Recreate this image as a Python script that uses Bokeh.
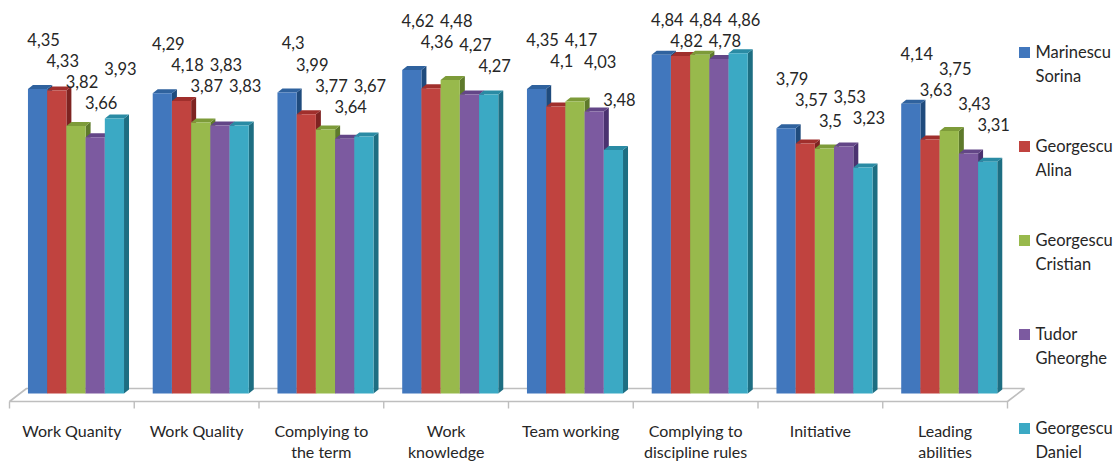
from bokeh.plotting import figure
from bokeh.models import Range1d
from bokeh.embed import file_html
from bokeh.resources import INLINE
from bokeh.core.properties import value

# ---------------- data ----------------
categories = ["Work Quanity", "Work Quality", "Complying to\nthe term", "Work\nknowledge",
              "Team working", "Complying to\ndiscipline rules", "Initiative", "Leading\nabilities"]
series_names = ["Marinescu\nSorina", "Georgescu\nAlina", "Georgescu\nCristian",
                "Tudor\nGheorghe", "Georgescu\nDaniel"]
marinescu_sorina = [4.35, 4.29, 4.30, 4.62, 4.35, 4.84, 3.79, 4.14]
georgescu_alina = [4.33, 4.18, 3.99, 4.36, 4.10, 4.82, 3.57, 3.63]
georgescu_cristian = [3.82, 3.87, 3.77, 4.48, 4.17, 4.84, 3.50, 3.75]
tudor_gheorghe = [3.66, 3.83, 3.64, 4.27, 4.03, 4.78, 3.53, 3.43]
georgescu_daniel = [3.93, 3.83, 3.67, 4.27, 3.48, 4.86, 3.23, 3.31]
series_values = [marinescu_sorina, georgescu_alina, georgescu_cristian, tudor_gheorghe, georgescu_daniel]

# ---------------- style ----------------
front_colors = ["#4177BD", "#C0433F", "#98B94C", "#7C5AA0", "#3BA9C4"]
side_colors = ["#1F4B7D", "#7E2321", "#5E7A2B", "#4B3270", "#1D6E82"]
top_colors = ["#2F629E", "#A02F2C", "#7D9B39", "#634687", "#2A8BA4"]
FONT = "Lato"
FONT_SIZE = "16.5px"
TEXT_COLOR = "#262626"

W, H = 1120, 464
X0 = 9          # screen x of first category boundary
PX_X = 124.75   # pixels per category
PX_Y = 70.0     # pixels per value unit
ZERO_Y = 393    # screen y of value 0

p = figure(width=W, height=H, output_backend="svg", toolbar_location=None,
           x_axis_type=None, y_axis_type=None,
           x_range=Range1d(-X0 / PX_X, (W - X0) / PX_X),
           y_range=Range1d(-(H - ZERO_Y) / PX_Y, ZERO_Y / PX_Y),
           min_border_left=0, min_border_right=0, min_border_top=0, min_border_bottom=0)
p.outline_line_color = None
p.background_fill_color = "white"
p.border_fill_color = "white"

n = len(categories)
BAR_W = 0.154
GROUP_LEFT = 0.148
DX = 5 / PX_X
DY = 4 / PX_Y

def sy(screen_y):
    """screen y (from top) -> data value"""
    return (ZERO_Y - screen_y) / PX_Y

def sx(screen_x):
    return (screen_x - X0) / PX_X

# ---------------- floor ----------------
f_front = sy(401)
f_back = sy(388)
f_shift = 17 / PX_X
p.patch([0, n, n + f_shift, f_shift], [f_front, f_front, f_back, f_back],
        fill_color="white", line_color="#BEBEBE", line_width=1.6)
p.segment(x0=list(range(n + 1)), y0=[f_front] * (n + 1),
          x1=list(range(n + 1)), y1=[sy(408)] * (n + 1),
          line_color="#BEBEBE", line_width=1.4)

# ---------------- bars ----------------
for s, vals in enumerate(series_values):
    lefts = [c + GROUP_LEFT + s * BAR_W for c in range(n)]
    rights = [l + BAR_W for l in lefts]
    side_xs = [[r, r + DX, r + DX, r] for r in rights]
    side_ys = [[0, DY, v + DY, v] for v in vals]
    top_xs = [[l, l + DX, r + DX, r] for l, r in zip(lefts, rights)]
    top_ys = [[v, v + DY, v + DY, v] for v in vals]
    p.patches(side_xs, side_ys, fill_color=side_colors[s], line_color=None)
    p.patches(top_xs, top_ys, fill_color=top_colors[s], line_color=None)
    p.quad(left=lefts, right=rights, bottom=[0] * n, top=vals,
           fill_color=front_colors[s], line_color=None)

# ---------------- data labels (simple overlap avoidance) ----------------
def fmt(v):
    return ("%.2f" % v).rstrip("0").rstrip(".").replace(".", ",")

PREF, GAP, MINUP, MAXH = 50.0, 21.0, 14.0, 374.0   # pixels
lab_x, lab_y, lab_t = [], [], []
for c in range(n):
    prev = None
    for s, vals in enumerate(series_values):
        top_px = vals[c] * PX_Y
        want = top_px + PREF
        y = min(want, MAXH)
        if prev is not None and abs(y - prev) < GAP:
            cands = [prev + GAP, prev - GAP]
            cands = [cc for cc in cands if top_px + MINUP <= cc <= MAXH] or [prev + GAP]
            y = min(cands, key=lambda cc: abs(cc - want) + (5 if cc > prev else 0))
        prev = y
        lab_x.append(c + GROUP_LEFT + (s + 0.5) * BAR_W + 6 / PX_X)
        lab_y.append(y / PX_Y)
        lab_t.append(fmt(vals[c]))
p.text(x=lab_x, y=lab_y, text=lab_t, text_align="center",
       text_baseline="middle", text_font=value(FONT), text_font_size=FONT_SIZE,
       text_color=TEXT_COLOR)

# ---------------- category labels ----------------
p.text(x=[c + 0.5 for c in range(n)], y=[sy(420)] * n, text=categories,
       text_align="center", text_baseline="top", text_font=value(FONT),
       text_font_size="16px", text_color=TEXT_COLOR, text_line_height=1.15)

# ---------------- legend ----------------
leg_centers = [52 + 94 * i for i in range(len(series_names))]
p.scatter(x=[sx(1024)] * len(series_names), y=[sy(cy) for cy in leg_centers],
          marker="square", size=11, fill_color=front_colors, line_color=None)
p.text(x=[sx(1035)] * len(series_names), y=[sy(cy - 11) for cy in leg_centers],
       text=series_names, text_align="left", text_baseline="top",
       text_font=value(FONT), text_font_size=FONT_SIZE, text_color=TEXT_COLOR,
       text_line_height=1.2)

open("out.html", "w").write(file_html(p, INLINE))
